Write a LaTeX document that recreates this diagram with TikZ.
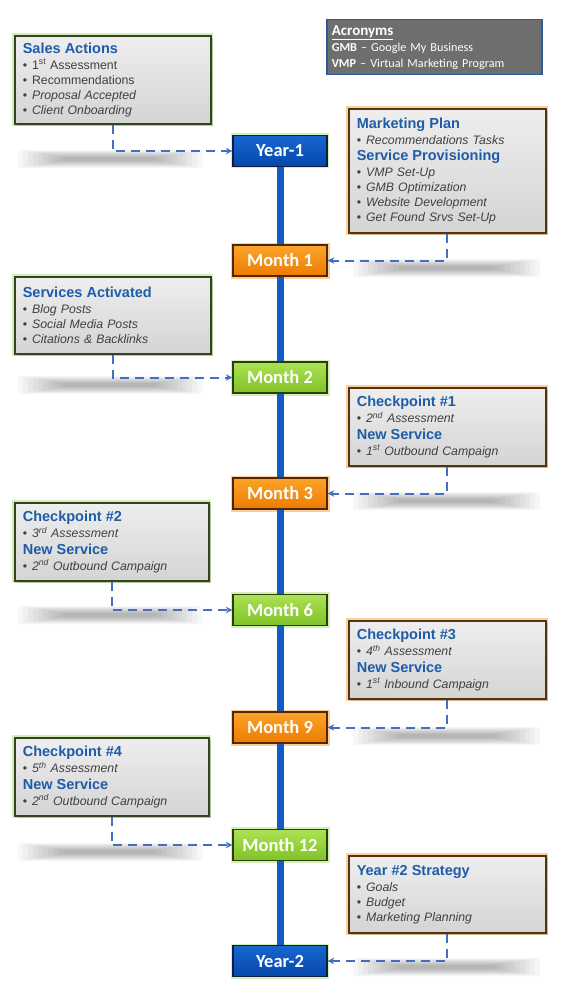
\documentclass[tikz,border=0pt]{standalone}
\usepackage{fontspec}
\setmainfont{Liberation Sans}
\newfontfamily\calib{Carlito}
\usetikzlibrary{shadows,arrows.meta}
\definecolor{ttlblue}{RGB}{30,92,168}
\definecolor{txtgray}{RGB}{64,64,64}
\definecolor{boxgrayT}{RGB}{238,238,238}
\definecolor{boxgrayB}{RGB}{212,212,212}
\definecolor{leftborder}{RGB}{52,68,32}
\definecolor{leftglow}{RGB}{212,236,182}
\definecolor{rightborder}{RGB}{86,50,16}
\definecolor{rightglow}{RGB}{250,208,158}
\definecolor{orangeT}{RGB}{252,164,42}
\definecolor{orangeB}{RGB}{236,124,0}
\definecolor{orangeD}{RGB}{80,40,5}
\definecolor{orangeGlow}{RGB}{252,205,150}
\definecolor{greenT}{RGB}{172,226,84}
\definecolor{greenB}{RGB}{128,194,40}
\definecolor{greenD}{RGB}{40,62,14}
\definecolor{greenGlow}{RGB}{214,238,178}
\definecolor{blueT}{RGB}{22,102,208}
\definecolor{blueB}{RGB}{6,72,170}
\definecolor{blueD}{RGB}{10,30,72}
\definecolor{lineblue}{RGB}{16,92,196}
\definecolor{connblue}{RGB}{68,110,190}
\definecolor{acrgray}{RGB}{110,110,110}
\definecolor{acrborder}{RGB}{45,90,155}
\newcommand\ttl[1]{{\fontsize{14.5}{15}\selectfont\bfseries\color{ttlblue}#1}}
\newcommand\itm[1]{\textbullet\hspace{5pt}#1}
\newcommand\blurbar[3]{\foreach \k in {0,...,9}{\fill[black,opacity=0.032,rounded corners=1.5pt] ({#1+\k*5},{#3-9+\k*0.8}) rectangle ({#2-\k*5},{#3+9-\k*0.8});}}
\begin{document}
\begin{tikzpicture}[x=1pt,y=-1pt,
  infobox/.style={anchor=north west, align=left, inner xsep=8pt, inner ysep=3pt,
    top color=boxgrayT, bottom color=boxgrayB, line width=1.6pt, text=txtgray,
    font=\fontsize{12.3}{15}\selectfont},
  leftbox/.style={infobox, draw=leftborder, preaction={draw=leftglow,line width=5pt},
    drop shadow={opacity=0.35,shadow xshift=2.5pt,shadow yshift=-2.5pt}},
  rightbox/.style={infobox, draw=rightborder, preaction={draw=rightglow,line width=5pt},
    drop shadow={opacity=0.35,shadow xshift=2.5pt,shadow yshift=-2.5pt}},
  monthbox/.style={minimum width=94pt, minimum height=31pt, inner sep=0pt, text=white,
    font=\calib\bfseries\fontsize{18.5}{19}\selectfont, line width=1.4pt},
  orangebox/.style={monthbox, top color=orangeT, bottom color=orangeB, draw=orangeD,
    preaction={draw=orangeGlow,line width=5pt}},
  greenbox/.style={monthbox, top color=greenT, bottom color=greenB, draw=greenD,
    preaction={draw=greenGlow,line width=5pt}},
  bluebox/.style={monthbox, top color=blueT, bottom color=blueB, draw=blueD,
    preaction={draw=greenGlow,line width=4pt}},
  timeline/.style={draw=lineblue, line width=7pt},
  conn/.style={draw=connblue, line width=2pt, dash pattern=on 9pt off 6pt,
    -{Stealth[length=6.5pt,width=6.5pt]}}
]
\useasboundingbox (0,0) rectangle (562,1000);
\fill[white] (0,0) rectangle (562,1000);

% soft shadows under the connectors
\blurbar{18}{202}{159}
\blurbar{353}{540}{268}
\blurbar{18}{202}{385}
\blurbar{353}{540}{501}
\blurbar{18}{202}{615}
\blurbar{353}{540}{736}
\blurbar{18}{202}{852}
\blurbar{353}{540}{967}

% acronyms
\node[anchor=north west, minimum width=215pt, minimum height=55pt, text width=205pt,
  inner xsep=5pt, inner ysep=0pt, align=left, fill=acrgray, draw=acrborder, line width=1.5pt,
  text=white, font=\calib\fontsize{12.2}{16}\selectfont] (acr) at (326,19)
  {{\fontsize{15}{16}\selectfont\underline{\textbf{Acronyms}}}\\\textbf{GMB} – Google My Business\\\textbf{VMP} – Virtual Marketing Program};

% timeline boxes
\node[bluebox]   (y1)  at (280,151)   {Year-1};
\node[orangebox] (m1)  at (280,260.5) {Month 1};
\node[greenbox]  (m2)  at (280,377.5) {Month 2};
\node[orangebox] (m3)  at (280,493.5) {Month 3};
\node[greenbox]  (m6)  at (280,610)   {Month 6};
\node[orangebox] (m9)  at (280,727.5) {Month 9};
\node[greenbox]  (m12) at (280,845)   {Month 12};
\node[bluebox]   (y2)  at (280,961)   {Year-2};

\draw[timeline] (y1) -- (m1);
\draw[timeline] (m1) -- (m2);
\draw[timeline] (m2) -- (m3);
\draw[timeline] (m3) -- (m6);
\draw[timeline] (m6) -- (m9);
\draw[timeline] (m9) -- (m12);
\draw[timeline] (m12) -- (y2);

% information boxes
\node[leftbox, text width=180pt, minimum height=88pt] (sales) at (14,35)
  {\ttl{Sales Actions}\\[1pt]
   \itm{1\textsuperscript{st} Assessment}\\
   \itm{Recommendations}\\
   \itm{\textit{Proposal Accepted}}\\
   \itm{\textit{Client Onboarding}}};

\node[rightbox, text width=181pt, minimum height=124pt] (mplan) at (348,108)
  {\ttl{Marketing Plan}\\[1pt]
   \itm{\textit{Recommendations Tasks}}\\[1.5pt]
   \ttl{Service Provisioning}\\[1pt]
   \itm{\textit{VMP Set-Up}}\\
   \itm{\textit{GMB Optimization}}\\
   \itm{\textit{Website Development}}\\
   \itm{\textit{Get Found Srvs Set-Up}}};

\node[leftbox, text width=180pt, minimum height=77pt] (svc) at (14,276)
  {\ttl{Services Activated}\\[1pt]
   \itm{\textit{Blog Posts}}\\
   \itm{\textit{Social Media Posts}}\\
   \itm{\textit{Citations \& Backlinks}}};

\node[rightbox, text width=181pt, minimum height=78pt] (cp1) at (348,387)
  {\ttl{Checkpoint \#1}\\[1pt]
   \itm{\textit{2\textsuperscript{nd} Assessment}}\\[1.5pt]
   \ttl{New Service}\\[1pt]
   \itm{\textit{1\textsuperscript{st} Outbound Campaign}}};

\node[leftbox, text width=178pt, minimum height=78pt] (cp2) at (14,502)
  {\ttl{Checkpoint \#2}\\[1pt]
   \itm{\textit{3\textsuperscript{rd} Assessment}}\\[1.5pt]
   \ttl{New Service}\\[1pt]
   \itm{\textit{2\textsuperscript{nd} Outbound Campaign}}};

\node[rightbox, text width=181pt, minimum height=78pt] (cp3) at (348,620)
  {\ttl{Checkpoint \#3}\\[1pt]
   \itm{\textit{4\textsuperscript{th} Assessment}}\\[1.5pt]
   \ttl{New Service}\\[1pt]
   \itm{\textit{1\textsuperscript{st} Inbound Campaign}}};

\node[leftbox, text width=178pt, minimum height=78pt] (cp4) at (14,737)
  {\ttl{Checkpoint \#4}\\[1pt]
   \itm{\textit{5\textsuperscript{th} Assessment}}\\[1.5pt]
   \ttl{New Service}\\[1pt]
   \itm{\textit{2\textsuperscript{nd} Outbound Campaign}}};

\node[rightbox, text width=181pt, minimum height=77pt] (y2s) at (348,855)
  {\ttl{Year \#2 Strategy}\\[1pt]
   \itm{\textit{Goals}}\\
   \itm{\textit{Budget}}\\
   \itm{\textit{Marketing Planning}}};

% connectors
\draw[conn] (sales.south) |- (y1.west);
\draw[conn] (mplan.south) |- (m1.east);
\draw[conn] (svc.south)   |- (m2.west);
\draw[conn] (cp1.south)   |- (m3.east);
\draw[conn] (cp2.south)   |- (m6.west);
\draw[conn] (cp3.south)   |- (m9.east);
\draw[conn] (cp4.south)   |- (m12.west);
\draw[conn] (y2s.south)   |- (y2.east);
\end{tikzpicture}
\end{document}
